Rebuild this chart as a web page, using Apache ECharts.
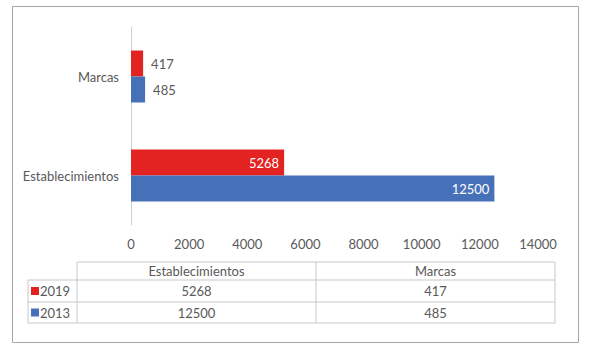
<!DOCTYPE html>
<html>
<head>
<meta charset="utf-8">
<script src="https://cdn.jsdelivr.net/npm/echarts@6/dist/echarts.min.js"></script>
<style>
  html, body { margin: 0; padding: 0; background: #fff; }
  #chart { width: 589px; height: 350px; }
</style>
</head>
<body>
<div id="chart"></div>
<script>
// datos
var categorias = ['Establecimientos', 'Marcas'];
var anios = ['2019', '2013'];
var valores2019 = [5268, 417];
var valores2013 = [12500, 485];
var colores = { '2019': '#E32322', '2013': '#4670B8' };

var chart = echarts.init(document.getElementById('chart'), null, { renderer: 'svg' });

var fuente = 'Lato, Open Sans, sans-serif';
var gris = '#595959';

// tabla de datos debajo del eje
var colX = [28, 77, 316, 555];
var filaY = [262, 280, 302, 323];
var tabla = [];
var borde = { stroke: '#c8c8c8', lineWidth: 1 };
function linea(x1, y1, x2, y2) {
  tabla.push({ type: 'line', shape: { x1: x1, y1: y1, x2: x2, y2: y2 }, style: borde, silent: true });
}
function texto(x, y, t, align) {
  tabla.push({ type: 'text', x: x, y: y, style: { text: t, fill: gris, font: '13px ' + fuente, textAlign: align || 'center', textVerticalAlign: 'middle' }, silent: true });
}
// lineas horizontales
linea(colX[1], filaY[0], colX[3], filaY[0]);
for (var i = 1; i < filaY.length; i++) linea(colX[0], filaY[i], colX[3], filaY[i]);
// lineas verticales
linea(colX[0], filaY[1], colX[0], filaY[3]);
linea(colX[1], filaY[0], colX[1], filaY[3]);
linea(colX[2], filaY[0], colX[2], filaY[3]);
linea(colX[3], filaY[0], colX[3], filaY[3]);
// encabezado
categorias.forEach(function (c, j) {
  texto((colX[j + 1] + colX[j + 2]) / 2, (filaY[0] + filaY[1]) / 2, c);
});
// filas
var filas = [valores2019, valores2013];
anios.forEach(function (a, r) {
  var yc = (filaY[r + 1] + filaY[r + 2]) / 2;
  tabla.push({ type: 'rect', shape: { x: 31, y: yc - 4, width: 8, height: 8 }, style: { fill: colores[a] }, silent: true });
  texto(40, yc, a, 'left');
  filas[r].forEach(function (v, j) {
    texto((colX[j + 1] + colX[j + 2]) / 2, yc, String(v));
  });
});
// marco exterior
tabla.push({ type: 'rect', shape: { x: 12.5, y: 6.5, width: 566, height: 336 }, style: { fill: 'none', stroke: '#a6a6a6', lineWidth: 1 }, silent: true });

var option = {
  animation: false,
  textStyle: { fontFamily: fuente },
  grid: { left: 131, top: 27, right: 51, bottom: 125 },
  xAxis: {
    type: 'value',
    min: 0,
    max: 14000,
    interval: 2000,
    axisLine: { show: false },
    axisTick: { show: false },
    splitLine: { show: false },
    axisLabel: { color: gris, fontSize: 13, margin: 12, formatter: function (v) { return String(v); } }
  },
  yAxis: {
    type: 'category',
    data: categorias,
    axisLine: { show: true, lineStyle: { color: '#d0d0d0' } },
    axisTick: { show: false },
    axisLabel: { color: gris, fontSize: 13, margin: 12 }
  },
  series: [
    {
      name: '2019',
      type: 'bar',
      data: valores2019,
      barWidth: 26,
      barGap: '0%',
      itemStyle: { color: colores['2019'] },
      label: { show: true, position: 'insideRight', color: '#fff', fontSize: 13 }
    },
    {
      name: '2013',
      type: 'bar',
      data: valores2013,
      barWidth: 26,
      barGap: '0%',
      itemStyle: { color: colores['2013'] },
      label: { show: true, position: 'insideRight', color: '#fff', fontSize: 13 }
    }
  ],
  graphic: tabla
};

// etiquetas de barras pequeñas fuera de la barra
option.series.forEach(function (s) {
  s.data = s.data.map(function (v) {
    if (v < 2000) {
      return { value: v, label: { position: 'right', color: gris, distance: 8 } };
    }
    return v;
  });
});

chart.setOption(option);
</script>
</body>
</html>
